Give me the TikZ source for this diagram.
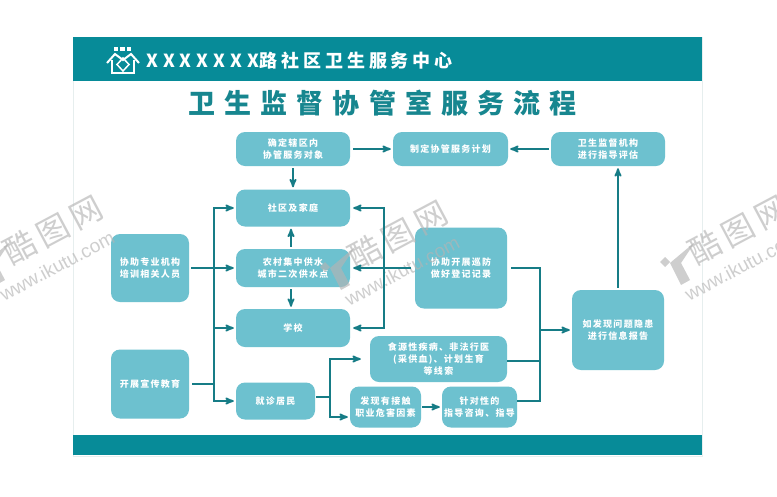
\documentclass[tikz,border=0pt]{standalone}
\usepackage{fontspec}
\usepackage{tikz}
\usetikzlibrary{arrows}
\setmainfont{Noto Sans CJK SC}
\newfontfamily\boxfont[LetterSpace=14]{Noto Sans CJK SC}
\newfontfamily\headfont[LetterSpace=22]{Noto Sans CJK SC}
\newfontfamily\headxfont[LetterSpace=28]{Noto Sans CJK SC}
\newfontfamily\titlefont[LetterSpace=34]{Noto Sans CJK SC}
\newfontfamily\markfont[LetterSpace=18]{Noto Sans CJK SC}
\newfontfamily\urlfont{Liberation Sans}
\definecolor{band}{HTML}{078B98}
\definecolor{boxfill}{HTML}{6DC1CF}
\definecolor{flowline}{HTML}{167C86}
\definecolor{titletext}{HTML}{17868F}
\definecolor{framegray}{HTML}{E6EEEE}
\definecolor{markgray}{HTML}{B4B4B4}

\begin{document}
\begin{tikzpicture}[x=1pt,y=-1pt,>=stealth',line join=miter]
  \tikzstyle{box}=[fill=boxfill,draw=none,text=white,rounded corners=9pt,inner sep=0pt,
                   align=center,font=\boxfont\bfseries\fontsize{9}{12}\selectfont]
  \tikzstyle{link}=[draw=flowline,line width=1.8pt]
  \tikzstyle{flow}=[link,->,shorten >=2pt]
  \tikzstyle{fork}=[link,<->,shorten >=2pt,shorten <=2pt]

  \useasboundingbox (0,0) rectangle (777,496);
  \fill[white] (0,0) rectangle (777,496);
  \draw[framegray,fill=white] (73,37) rectangle (702,456);
  \fill[band] (73,37) rectangle (702,81);
  \fill[band] (73,435) rectangle (702,455);

  % logo in the band
  \draw[white,line width=2pt] (107,63) -- (115,54) -- (123,60) -- (131,54) -- (139,63);
  \draw[white,line width=2pt] (112,60) -- (112,72.5) -- (134,72.5) -- (134,60);
  \draw[white,line width=1.5pt] (123,58) -- (129,64.5) -- (123,71) -- (117,64.5) -- cycle;
  \foreach \hx in {116,122.5,129}
    \fill[white] (\hx-2.3,46.5) rectangle (\hx+2.3,51);

  \node[anchor=west,text=white,inner sep=0pt,font=\headfont\bfseries\fontsize{18}{20}\selectfont]
    (head) at (146,61) {{\headxfont XXXXXXX}路社区卫生服务中心};
  \node[anchor=west,text=titletext,inner sep=0pt,font=\titlefont\bfseries\fontsize{27}{30}\selectfont]
    (title) at (188,103) {卫生监督协管室服务流程};

  \node[box,minimum width=114pt,minimum height=34pt] (A) at (293,149) {确定辖区内\\协管服务对象};
  \node[box,minimum width=115pt,minimum height=34pt] (B) at (450.5,149) {制定协管服务计划};
  \node[box,minimum width=114pt,minimum height=34pt] (C) at (608,149) {卫生监督机构\\进行指导评估};
  \node[box,minimum width=114pt,minimum height=37pt] (D) at (293,208) {社区及家庭};
  \node[box,minimum width=114pt,minimum height=38pt] (E) at (293,268) {农村集中供水\\城市二次供水点};
  \node[box,minimum width=114pt,minimum height=38pt] (F) at (293,328) {学校};
  \node[box,minimum width=78pt,minimum height=68pt] (G) at (150,268) {协助专业机构\\培训相关人员};
  \node[box,minimum width=78pt,minimum height=69pt] (H) at (150,384) {开展宣传教育};
  \node[box,minimum width=79pt,minimum height=37pt] (I) at (275.5,401) {就诊居民};
  \node[box,minimum width=92pt,minimum height=81pt] (J) at (461,268) {协助开展巡防\\做好登记记录};
  \node[box,minimum width=92pt,minimum height=80pt] (K) at (618,330) {如发现问题隐患\\进行信息报告};
  \node[box,minimum width=137pt,minimum height=46pt] (L) at (438.5,359) {食源性疾病、非法行医\\(采供血)、计划生育\\等线索};
  \node[box,minimum width=71pt,minimum height=41pt] (M) at (385.5,407) {发现有接触\\职业危害因素};
  \node[box,minimum width=75pt,minimum height=41pt] (N) at (479.5,407) {针对性的\\指导咨询、指导};

  % site marks lie over the boxes, the lines over them
  \foreach \wx/\wy/\wn in {53/230/a,398/235/b,738/230/c}
  {
    \begin{scope}[shift={(\wx,\wy)},opacity=.65]
      \node[rotate=28,text=markgray,inner sep=0pt,font=\markfont\fontsize{32}{36}\selectfont] (mark\wn) at (0,0) {酷图网};
      \node[rotate=28,text=markgray,inner sep=0pt,font=\urlfont\fontsize{19}{22}\selectfont] (url\wn) at (4,36) {www.ikutu.com};
      \fill[markgray] (-43,12) -- (-68,33) -- (-57,55) -- (-48,50) -- (-57,33) -- cycle;
      \fill[markgray] (-73,27) -- (-68,32) -- (-73,37) -- (-78,32) -- cycle;
    \end{scope}
  }

  \coordinate (lbus) at (214,300);
  \coordinate (rbus) at (384,300);
  \coordinate (pbus) at (330,400);
  \coordinate (qbus) at (540,400);

  \draw[flow,shorten <=3pt] (A) -- (B);
  \draw[flow,shorten <=2pt] (C) -- (B);
  \draw[flow,shorten <=2pt] (A) -- (D);
  \draw[flow,shorten <=2pt] ([xshift=-2pt]E.north) -- ([xshift=-2pt]D.south);
  \draw[flow,shorten <=2pt] ([xshift=-2pt]E.south) -- ([xshift=-2pt]F.north);
  \draw[flow,shorten <=2pt] (K.north) -- (K.north |- C.south);

  % left side
  \draw[flow,shorten <=2pt] (G) -- (E);
  \draw[link,shorten <=3pt] (H.east) -- (lbus |- H.east);
  \draw[fork] (D.west) -- (lbus |- D.west) -- (lbus |- I.west) -- (I.west);
  \draw[flow] (lbus |- F.west) -- (F.west);

  % right side
  \draw[fork,shorten >=3pt,shorten <=3pt] (D.east) -- (rbus |- D.east) -- (rbus |- F.east) -- (F.east);
  \draw[flow,shorten <=4pt,shorten >=3pt] (J.west) -- (E.east);

  % bottom row
  \draw[link,shorten <=1pt] ([yshift=4pt]I.east) -- ([yshift=4pt]I.east -| pbus);
  \draw[fork,shorten <=9pt] (L.west) -- (pbus |- L.west) -- ([yshift=-10pt]M.west -| pbus) -- ([yshift=-10pt]M.west);
  \draw[flow,shorten <=1pt] (M) -- (N);

  % towards K
  \draw[link,shorten <=4pt] (J.east) -- (qbus |- J.east) -- ([yshift=6pt]N.east -| qbus) -- ([yshift=6pt]N.east);
  \draw[link] ([yshift=-2pt]L.east) -- ([yshift=-2pt]L.east -| qbus);
  \draw[flow] (qbus |- K.west) -- (K.west);
\end{tikzpicture}
\end{document}
